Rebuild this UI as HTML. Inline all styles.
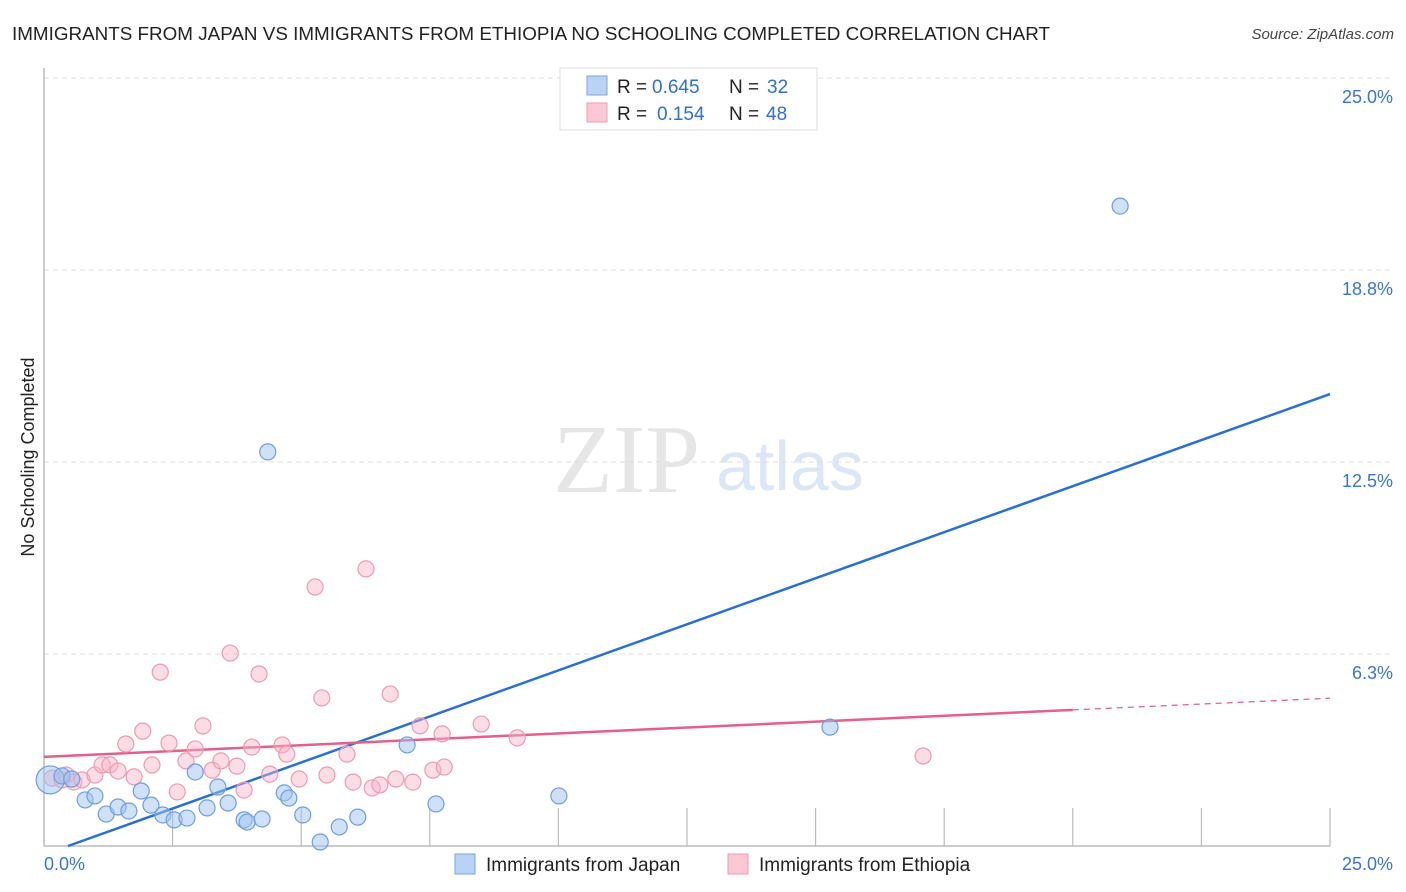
<!DOCTYPE html>
<html><head><meta charset="utf-8"><style>
html,body{margin:0;padding:0;background:#fff;}
svg{display:block;font-family:"Liberation Sans",sans-serif;}
</style></head><body>
<svg id="chart" width="1406" height="892" viewBox="0 0 1406 892">
<text x="12" y="40" font-size="18.5" fill="#222" textLength="1038" lengthAdjust="spacingAndGlyphs">IMMIGRANTS FROM JAPAN VS IMMIGRANTS FROM ETHIOPIA NO SCHOOLING COMPLETED CORRELATION CHART</text>
<text x="1394" y="39" font-size="15" font-style="italic" fill="#444" text-anchor="end">Source: ZipAtlas.com</text>
<g>
<text x="553" y="492" font-family="Liberation Serif,serif" font-size="98" fill="#e6e6e6">ZIP</text>
<text x="716" y="490" font-size="70" fill="#dbe6f6">atlas</text>
</g>
<g id="grid"></g>
<g id="axes"></g>
<text transform="translate(34,457) rotate(-90)" font-size="18" fill="#222" text-anchor="middle">No Schooling Completed</text>
<g id="lines"></g>
<g id="points"></g>
<g>
<rect x="560" y="68" width="257" height="62" fill="#fff" stroke="#ddd"/>
<rect x="587" y="76" width="20" height="19" fill="#b9d3f5" stroke="#7aa6e4"/>
<rect x="587" y="103" width="20" height="19" fill="#fcc8d6" stroke="#ec9bb3"/>
<text y="93" font-size="19"><tspan x="617" fill="#222">R = </tspan><tspan x="652" fill="#2f6fd6">0.645</tspan><tspan x="729" fill="#222">N = </tspan><tspan x="767" fill="#2f6fd6">32</tspan></text>
<text y="120" font-size="19"><tspan x="617" fill="#222">R = </tspan><tspan x="657" fill="#2f6fd6">0.154</tspan><tspan x="729" fill="#222">N = </tspan><tspan x="766" fill="#2f6fd6">48</tspan></text>
</g>
<g>
<rect x="455" y="854" width="20" height="20" fill="#b9d3f5" stroke="#7aa6e4"/>
<text x="486" y="871" font-size="19" fill="#222">Immigrants from Japan</text>
<rect x="728" y="854" width="20" height="20" fill="#fcc8d6" stroke="#ec9bb3"/>
<text x="759" y="871" font-size="19" fill="#222">Immigrants from Ethiopia</text>
</g>
</svg>
<script>
const japanX=[0.12,0.35,0.54,0.80,0.99,1.21,1.44,1.65,1.89,2.08,2.31,2.53,2.78,2.94,3.17,3.38,3.58,3.89,3.95,4.24,4.35,4.67,4.76,5.03,5.37,5.74,6.10,7.06,7.62,10.01,15.28,20.92];
const japanY=[2.15,2.28,2.18,1.50,1.63,1.04,1.27,1.14,1.79,1.33,1.01,0.85,0.91,2.41,1.24,1.92,1.40,0.85,0.78,0.88,12.83,1.73,1.56,1.01,0.13,0.62,0.94,3.29,1.37,1.63,3.87,20.83];
const ethX=[0.16,0.35,0.43,0.58,0.74,0.99,1.13,1.28,1.44,1.59,1.75,1.92,2.10,2.26,2.43,2.59,2.76,2.94,3.09,3.27,3.44,3.62,3.75,3.89,4.04,4.18,4.39,4.63,4.72,4.96,5.27,5.40,5.50,5.89,6.01,6.26,6.38,6.53,6.73,6.84,7.17,7.31,7.56,7.74,7.78,8.50,9.20,17.09];
const ethY=[2.21,2.15,2.31,2.08,2.15,2.31,2.64,2.64,2.44,3.32,2.25,3.74,2.64,5.66,3.35,1.76,2.77,3.16,3.91,2.47,2.77,6.28,2.60,1.82,3.22,5.60,2.34,3.29,2.99,2.18,8.43,4.82,2.31,2.99,2.08,9.02,1.89,1.99,4.95,2.18,2.08,3.91,2.47,3.65,2.57,3.97,3.52,2.93];
const yTicks=[6.25,12.5,18.75,25];
const yTickLabels=["6.3%","12.5%","18.8%","25.0%"];
const xTickLabels=["0.0%","25.0%"];
const japanTrend=[0.5997,-0.28];
const ethTrend=[0.0765,2.90];
const ethTrendSolidEnd=20;

const NS="http://www.w3.org/2000/svg";
const X0=44,X1=1330,Y0=846,Y1=78;
const sx=v=>X0+(v/25)*(X1-X0);
const sy=v=>Y0-(v/25)*(Y0-Y1);
function mk(tag,attrs,parent){const e=document.createElementNS(NS,tag);for(const k in attrs)e.setAttribute(k,attrs[k]);parent.appendChild(e);return e;}
const grid=document.getElementById('grid'),axes=document.getElementById('axes'),lines=document.getElementById('lines'),pts=document.getElementById('points');

yTicks.forEach((t,i)=>{
  const l=mk('line',{x1:X0,x2:1393,y1:sy(t),y2:sy(t),stroke:'#ddd','stroke-dasharray':'5,4'},grid);
  
  
  const tx=mk('text',{x:1393,y:sy(t)+25,'font-size':18,fill:'#3a74d4','text-anchor':'end'},grid);
  tx.textContent=yTickLabels[i];
  
  
});
let a=mk('line',{x1:X0,x2:X0,y1:68,y2:Y0,stroke:'#bbb','stroke-width':1.5},axes);


a=mk('line',{x1:X0,x2:X1,y1:Y0,y2:Y0,stroke:'#bbb','stroke-width':1.5},axes);


for(let i=1;i<=10;i++){
  const t=mk('line',{x1:sx(i*2.5),x2:sx(i*2.5),y1:Y0,y2:Y0-38,stroke:'#bbb','stroke-width':1.2},axes);
  
  
}
[[0,'start',X0],[25,'end',1393]].forEach((d,i)=>{
  const t=mk('text',{x:d[2],y:870,'font-size':18,fill:'#3a74d4','text-anchor':d[1]},axes);
  t.textContent=xTickLabels[i];
  
  
});

function drawPts(xs,ys,fill,stroke,name){
  xs.forEach((x,i)=>{
    const c=mk('circle',{cx:sx(x),cy:sy(ys[i]),r:(i===0&&name==='japan-point')?14:8,fill:fill,stroke:stroke,'stroke-width':1.2},pts);
    
    
  });
}
drawPts(ethX,ethY,'rgba(248,180,200,0.45)','#ec9bb3','ethiopia-point');
drawPts(japanX,japanY,'rgba(160,196,240,0.5)','#6d9ee2','japan-point');

let x0=-japanTrend[1]/japanTrend[0];
let l=mk('line',{x1:sx(x0),y1:sy(0),x2:sx(25),y2:sy(japanTrend[0]*25+japanTrend[1]),stroke:'#2a6fd6','stroke-width':2.5},lines);


l=mk('line',{x1:sx(0),y1:sy(ethTrend[1]),x2:sx(ethTrendSolidEnd),y2:sy(ethTrend[0]*ethTrendSolidEnd+ethTrend[1]),stroke:'#e4608a','stroke-width':2.5},lines);


l=mk('line',{x1:sx(ethTrendSolidEnd),y1:sy(ethTrend[0]*ethTrendSolidEnd+ethTrend[1]),x2:sx(25),y2:sy(ethTrend[0]*25+ethTrend[1]),stroke:'#e4608a','stroke-width':1.2,'stroke-dasharray':'6,5'},lines);


</script>
</body></html>
